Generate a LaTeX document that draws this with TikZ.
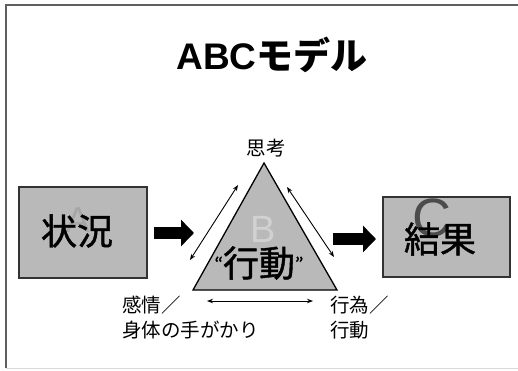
\documentclass[tikz,border=0pt]{standalone}
\usepackage{fontspec}
\setmainfont{Liberation Sans}
\newfontfamily\jp{Noto Sans CJK JP}
\newfontfamily\jpheavy{Noto Sans CJK JP}[FakeBold=1.2]
\usetikzlibrary{arrows.meta}
\begin{document}
\begin{tikzpicture}[x=1pt,y=-1pt]
\definecolor{fillgray}{RGB}{185,185,185}
\definecolor{framegray}{RGB}{95,95,95}
\tikzset{
  box/.style={draw=black!80, line width=1.2pt, fill=fillgray, inner sep=0pt},
  bigtext/.style={font=\jpheavy\fontsize{36}{36}\selectfont, inner sep=0pt},
  lbl/.style={font=\jp\fontsize{19.5}{25}\selectfont, inner sep=0pt, align=left},
  ghost/.style={font=\fontsize{#1}{#1}\selectfont, inner sep=0pt},
  blockarrow/.style={line width=12pt, -{Triangle[length=13pt,width=26pt]}},
  dbl/.style={line width=0.9pt, {Stealth[length=6pt,width=4.5pt]}-{Stealth[length=6pt,width=4.5pt]}},
  tri/.style={draw=black, line width=1.3pt, fill=fillgray}
}
\useasboundingbox (0,0) rectangle (518,370);
\fill[white] (0,0) rectangle (518,370);
% frame
\coordinate (f1) at (6,368);
\coordinate (f2) at (6,5);
\coordinate (f3) at (518,5);
\coordinate (f4) at (518,368);
\draw[framegray, line width=1.6pt] (f1) -- (f2) -- (f3);
\draw[black!15, line width=1pt] (f1) -- (f4);
% title
\node[font=\bfseries\fontsize{37}{40}\selectfont, inner sep=0pt] (title) at (272,55) {ABC{\jp モデル}};
% left box
\node[box, minimum width=128pt, minimum height=91pt] (L) at (83,232.5) {};
\node[ghost=36, text=black!35] (A) at (78,220) {A};
\node[bigtext] (Ltext) at (77,231) {状況};
% right box
\node[box, minimum width=127pt, minimum height=80pt] (R) at (446.5,237) {};
\node[ghost=54, text=black!70] (C) at (432,218) {C};
\node[bigtext] (Rtext) at (440,239) {結果};
% triangle
\coordinate (T) at (264,163);
\coordinate (BL) at (193,290);
\coordinate (BR) at (337,290);
\draw[tri] (T) -- (BL) -- (BR) -- cycle;
\node[ghost=38, text=black!18] (B) at (263,229) {B};
\node[bigtext] (Mtext) at (259,263) {\raisebox{6pt}{\fontsize{18}{18}\selectfont “}行動\raisebox{6pt}{\fontsize{18}{18}\selectfont ”}};
% block arrows
\coordinate (la1) at (154,233);
\coordinate (la2) at (194,233);
\coordinate (ra1) at (333,239);
\coordinate (ra2) at (376,239);
\draw[blockarrow] (la1) -- (la2);
\draw[blockarrow] (ra1) -- (ra2);
% double arrows
\coordinate (d1a) at (190,260);
\coordinate (d1b) at (238,185);
\coordinate (d2a) at (287,187);
\coordinate (d2b) at (334,257);
\coordinate (d3a) at (207,301);
\coordinate (d3b) at (313,301);
\draw[dbl] (d1a) -- (d1b);
\draw[dbl] (d2a) -- (d2b);
\draw[dbl] (d3a) -- (d3b);
% labels
\node[lbl] (think) at (266,148) {思考};
\node[lbl, anchor=north west] (emo) at (122,296) {感情／\\身体の手がかり};
\node[lbl, anchor=north west] (act) at (330,296) {行為／\\行動};
\end{tikzpicture}
\end{document}
